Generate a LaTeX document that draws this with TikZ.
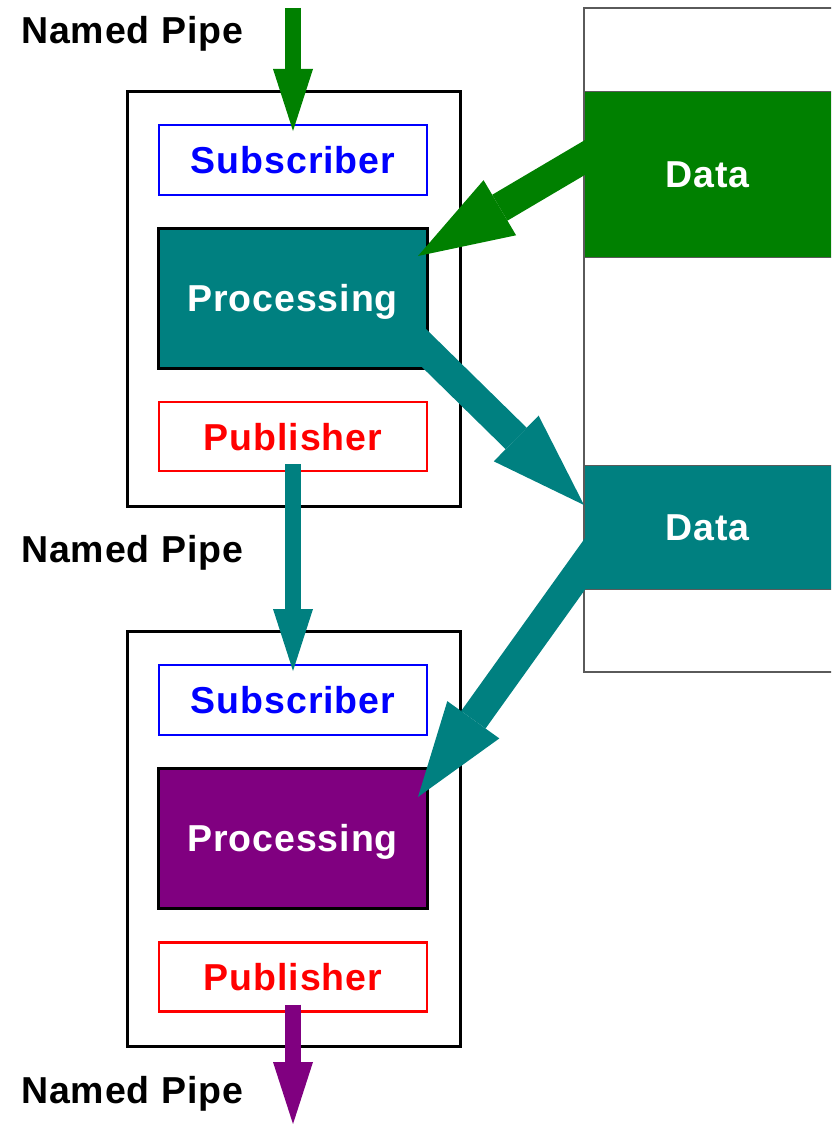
\documentclass[tikz,border=0pt]{standalone}
\usepackage{fontspec}
\setmainfont{Liberation Sans}[LetterSpace=2.5]
\usetikzlibrary{arrows.meta,calc}
\definecolor{pipegreen}{RGB}{0,128,0}
\definecolor{pipeteal}{RGB}{0,128,128}
\definecolor{pipepurple}{RGB}{128,0,128}
\definecolor{framegray}{RGB}{90,90,90}

\begin{document}
\begin{tikzpicture}[x=1pt,y=-1pt,
  every node/.style={inner sep=0pt, outer sep=0pt,
    font=\fontsize{37.5}{44}\selectfont\bfseries, text height=27pt, text depth=0pt},
  stage/.style={draw=black, line width=3pt, minimum width=333pt, minimum height=415pt},
  subbox/.style={draw=blue, line width=2.8pt, text=blue, fill=white,
    minimum width=268pt, minimum height=70pt},
  pubbox/.style={draw=red, line width=2.8pt, text=red, fill=white,
    minimum width=268pt, minimum height=69pt},
  procbox/.style={draw=black, line width=3pt, text=white,
    minimum width=269pt, minimum height=140pt},
  column/.style={draw=framegray, line width=1.5pt},
  databox/.style={draw=framegray, line width=1pt, text=white, minimum width=247pt},
  pipelabel/.style={anchor=base west, text=black},
  pipearrow/.style={line width=16pt, -{Triangle[length=62pt,width=40pt,line width=0pt]}},
  flowarrow/.style={line width=30pt, -{Triangle[length=95pt,width=64pt,line width=0pt]}},
]
\useasboundingbox (0,0) rectangle (831,1124);
\clip (0,0) rectangle (831,1124);

% shared data store on the right
\node[column, minimum width=270pt, minimum height=664pt, anchor=north west] (store) at (584,8) {};
\node[databox, fill=pipegreen, minimum height=166pt] (data1) at (707.5,174) {Data};
\node[databox, fill=pipeteal, minimum height=124pt] (data2) at (707.5,527) {Data};

% first stage
\node[stage] (stage1) at (293.5,298.5) {};
\node[subbox] (sub1) at (293,160) {Subscriber};
\node[procbox, fill=pipeteal] (proc1) at (292.5,298) {Processing};
\node[pubbox] (pub1) at (293,436.5) {Publisher};

% second stage
\node[stage] (stage2) at (293.5,838.5) {};
\node[subbox] (sub2) at (293,700) {Subscriber};
\node[procbox, fill=pipepurple] (proc2) at (292.5,838) {Processing};
\node[pubbox] (pub2) at (293,977) {Publisher};

% pipe labels
\node[pipelabel] (pipe1) at (21,44) {Named Pipe};
\node[pipelabel] (pipe2) at (21,562) {Named Pipe};
\node[pipelabel] (pipe3) at (21,1103) {Named Pipe};

% open ends of the pipe chain
\coordinate (feed) at (293,8);
\coordinate (drain) at (293,1124);

% named pipes between the stages
\draw[pipearrow, pipegreen] (feed) -- ($(sub1.north)+(0,6)$);
\draw[pipearrow, pipeteal] ($(pub1.south)+(0,-7)$) -- ($(sub2.north)+(0,6)$);
\draw[pipearrow, pipepurple] ($(pub2.south)+(0,-7)$) -- (drain);

% data flow between the stages and the store
\draw[flowarrow, pipegreen] ($(data1.west)+(25.8,-31.2)$) -- ($(proc1.north east)+(-9,28)$);
\draw[flowarrow, pipeteal] ($(proc1.center)+(102.6,21.7)$) -- ($(data2.west)+(0,-22)$);
\draw[flowarrow, pipeteal] ($(data2.west)+(17.6,13.7)$) -- ($(proc2.north east)+(-9,29)$);
\end{tikzpicture}
\end{document}
